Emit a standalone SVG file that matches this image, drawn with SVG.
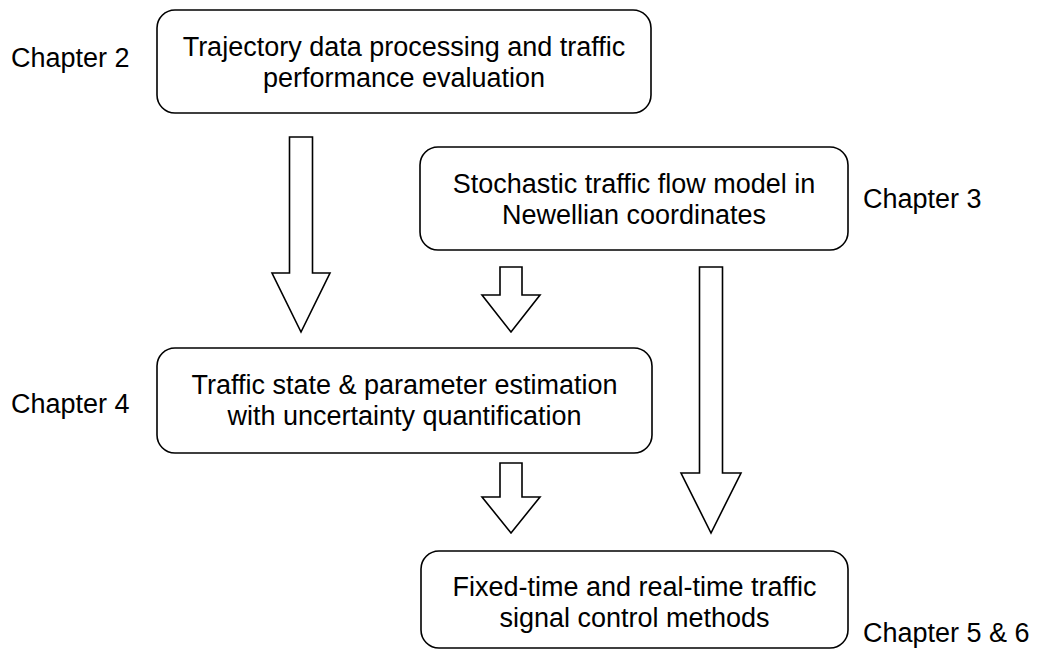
<svg xmlns="http://www.w3.org/2000/svg" width="1039" height="650" viewBox="0 0 1039 650">
  <style>
    .box { fill: #ffffff; stroke: #000000; stroke-width: 1.6; }
    .arrow { fill: #ffffff; stroke: #000000; stroke-width: 1.6; stroke-linejoin: miter; }
    .label { font-family: "Liberation Sans", Arial, sans-serif; font-size: 27px; fill: #000000; }
    .mid { text-anchor: middle; }
  </style>
  <rect width="1039" height="650" fill="#ffffff"/>

  <!-- block arrows between the stages -->
  <g id="connectors">
    <path class="arrow" d="M289.5,137 H312.5 V273 H330 L301,332 L272,273 H289.5 Z"/>
    <path class="arrow" d="M500,267 H522 V295 H540 L511,332 L482,295 H500 Z"/>
    <path class="arrow" d="M699.5,267 H722.5 V473 H741 L711,533 L681,473 H699.5 Z"/>
    <path class="arrow" d="M500,463 H522 V497 H540 L511,533 L482,497 H500 Z"/>
  </g>

  <g id="ch2">
    <rect class="box" x="157" y="10" width="494" height="103" rx="18"/>
    <text class="label mid" x="404" y="56">Trajectory data processing and traffic</text>
    <text class="label mid" x="404" y="87">performance evaluation</text>
    <text class="label" x="11" y="67">Chapter 2</text>
  </g>

  <g id="ch3">
    <rect class="box" x="420" y="147" width="428" height="103" rx="18"/>
    <text class="label mid" x="634" y="193">Stochastic traffic flow model in</text>
    <text class="label mid" x="634" y="224">Newellian coordinates</text>
    <text class="label" x="863" y="208">Chapter 3</text>
  </g>

  <g id="ch4">
    <rect class="box" x="157" y="348" width="495" height="105" rx="18"/>
    <text class="label mid" x="404.5" y="394">Traffic state &amp; parameter estimation</text>
    <text class="label mid" x="404.5" y="425">with uncertainty quantification</text>
    <text class="label" x="11" y="413">Chapter 4</text>
  </g>

  <g id="ch56">
    <rect class="box" x="421" y="551" width="427" height="97" rx="18"/>
    <text class="label mid" x="634.5" y="596">Fixed-time and real-time traffic</text>
    <text class="label mid" x="634.5" y="627">signal control methods</text>
    <text class="label" x="863" y="642">Chapter 5 &amp; 6</text>
  </g>
</svg>
